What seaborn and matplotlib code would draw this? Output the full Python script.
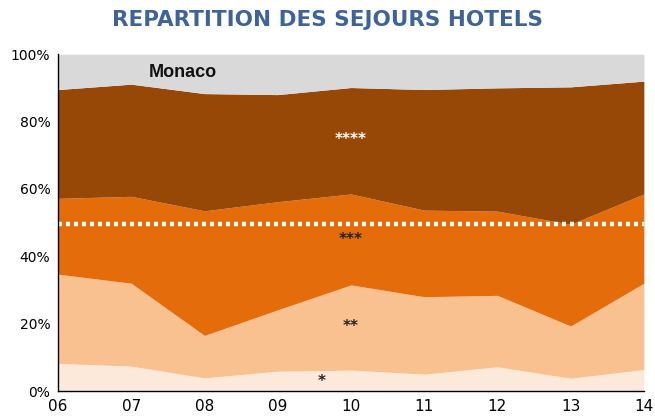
import seaborn as sns
import pandas as pd
import numpy as np
import matplotlib.pyplot as plt

years = ['06', '07', '08', '09', '10', '11', '12', '13', '14']
# share of stays per hotel category (%)
one_star = [8.2, 7.4, 3.9, 5.9, 6.2, 5.0, 7.2, 3.8, 6.4]
two_star = [26.5, 24.6, 12.6, 18.2, 25.3, 23.0, 21.2, 15.5, 25.6]
three_star = [22.5, 25.8, 37.0, 32.1, 27.0, 25.7, 25.0, 30.2, 26.5]
four_star = [32.3, 33.3, 34.8, 31.8, 31.6, 35.8, 36.6, 40.8, 33.5]
threshold = 49.6

colors = ['#fde9da', '#f9c190', '#e46c0a', '#974806']
star_labels = ['*', '**', '***', '****']

df = pd.DataFrame({'year': years, '*': one_star, '**': two_star,
                   '***': three_star, '****': four_star})
df['x'] = np.arange(len(years))
df['rest'] = 100 - df[star_labels].sum(axis=1)

sns.set_theme(style='white')
plt.rcParams['font.family'] = ['DejaVu Sans']

fig, ax = plt.subplots(figsize=(6.55, 4.2), dpi=100)
fig.subplots_adjust(left=0.0885, right=0.983, bottom=0.069, top=0.871)

ax.stackplot(df['x'], [df[c] for c in star_labels] + [df['rest']],
             colors=colors + ['#d9d9d9'], linewidth=0)

sns.lineplot(x=[df['x'].min(), df['x'].max()], y=[threshold, threshold], ax=ax,
             color='white', linewidth=3.2, linestyle=(0, (0.9, 0.9)))

ax.set_xlim(0, len(years) - 1)
ax.set_ylim(0, 100)
ax.set_xticks(df['x'])
ax.set_xticklabels(years, fontsize=11)
ax.set_yticks(range(0, 101, 20))
ax.set_yticklabels([f'{v}%' for v in range(0, 101, 20)], fontsize=10)
ax.tick_params(axis='both', direction='inout', length=7, width=1, colors='black', pad=2)
ax.set_xlabel('')
ax.set_ylabel('')
for s in ['top', 'right']:
    ax.spines[s].set_visible(False)
for s in ['left', 'bottom']:
    ax.spines[s].set_color('black')
    ax.spines[s].set_linewidth(1)

ax.text(1.7, 94.5, 'Monaco', fontsize=13, fontweight='bold', ha='center', va='center',
        family='Liberation Sans', color='#111111')
ax.text(4.0, 74.6, '****', color='white', fontsize=11, fontweight='bold', ha='center', va='center')
ax.text(4.0, 45.0, '***', color='#222222', fontsize=11, fontweight='bold', ha='center', va='center')
ax.text(4.0, 19.2, '**', color='#222222', fontsize=11, fontweight='bold', ha='center', va='center')
ax.text(3.6, 2.9, '*', color='#222222', fontsize=11, fontweight='bold', ha='center', va='center')

fig.suptitle('REPARTITION DES SEJOURS HOTELS', x=0.5, y=0.975, fontsize=15.5,
             fontweight='bold', color='#3d6399', family='DejaVu Sans')

fig.savefig('out.png', dpi=100)
